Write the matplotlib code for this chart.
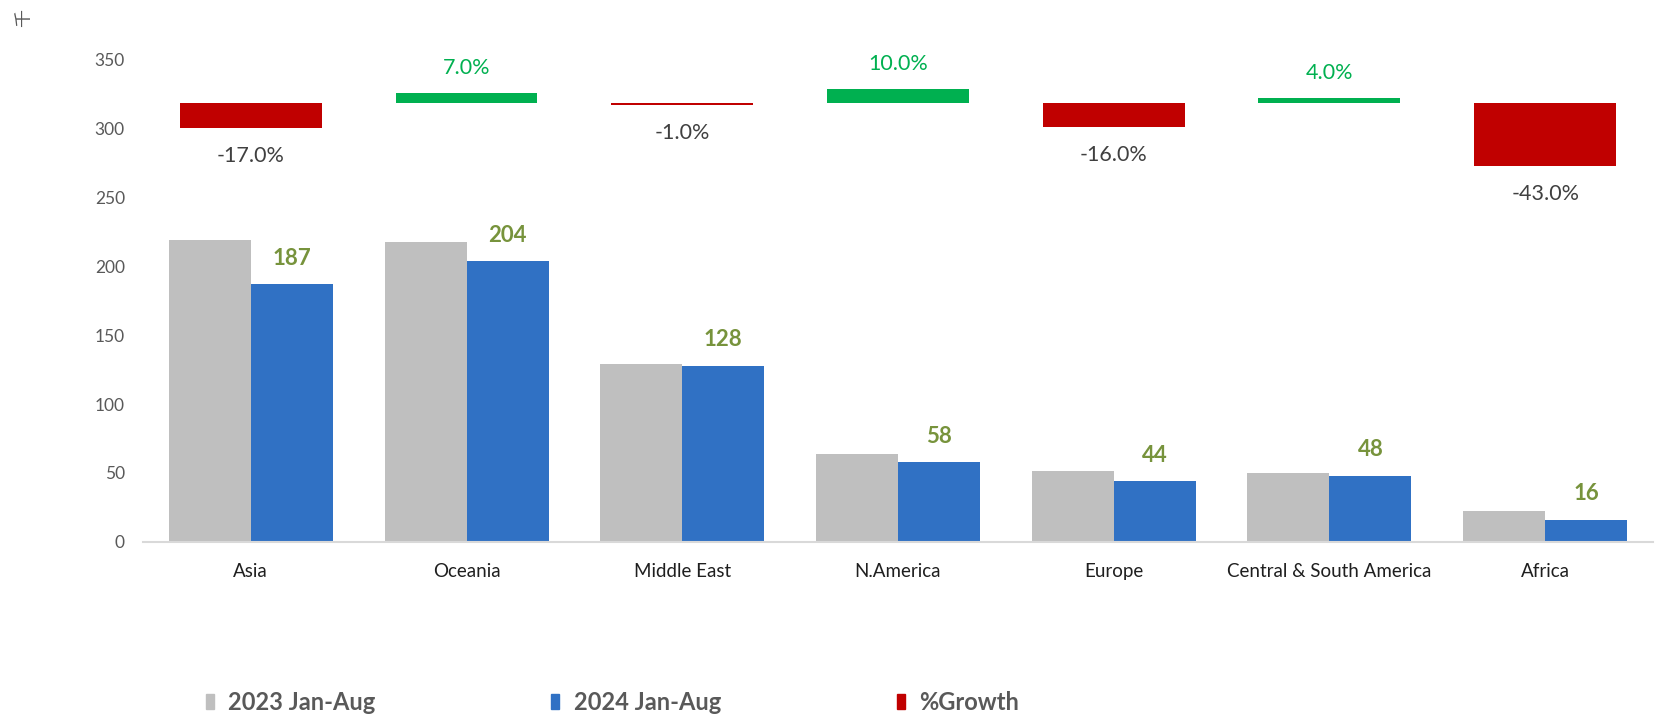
import numpy as np
import matplotlib
matplotlib.use("Agg")
import matplotlib.pyplot as plt
from matplotlib.patches import Patch

plt.rcParams['font.family'] = ['Lato', 'Noto Sans CJK SC', 'DejaVu Sans']

# data
regions = ['Asia', 'Oceania', 'Middle East', 'N.America', 'Europe',
           'Central & South America', 'Africa']
jan_aug_2023 = [219, 218, 129, 63.5, 51, 49.7, 22.5]
jan_aug_2024 = [187, 204, 128, 58, 44, 48, 16]
growth_pct = [-17.0, 7.0, -1.0, 10.0, -16.0, 4.0, -43.0]
y_ticks = [0, 50, 100, 150, 200, 250, 300, 350]
legend_labels = ['2023 Jan-Aug', '2024 Jan-Aug', '%Growth']

# colours
c_gray = '#BFBFBF'
c_blue = '#3071C4'
c_red = '#C00000'
c_green = '#00B050'
c_label = '#77933C'

fig = plt.figure(figsize=(16.64, 7.21), dpi=100)
ax = fig.add_axes([0.0859, 0.2487, 0.9075, 0.6681])

x = np.arange(len(regions))
w = 0.38
ax.bar(x - w / 2, jan_aug_2023, width=w, color=c_gray)
bars24 = ax.bar(x + w / 2, jan_aug_2024, width=w, color=c_blue)

# value labels above the 2024 bars
for rect, v in zip(bars24, jan_aug_2024):
    ax.annotate(f'{v:g}', (rect.get_x() + rect.get_width() / 2, v),
                xytext=(0, 18.5), textcoords='offset points',
                ha='center', va='center', fontsize=16, fontweight='bold',
                color=c_label)

ax.set_xlim(-0.5, len(regions) - 0.5)
ax.set_ylim(0, 350)
ax.set_yticks(y_ticks)
ax.set_xticks(x)
ax.set_xticklabels(regions, fontsize=13.5, color='#1F1F1F')
ax.tick_params(axis='x', length=0, pad=15)
ax.tick_params(axis='y', length=0, pad=13, labelsize=12.5, labelcolor='#595959')
for s in ['top', 'right', 'left']:
    ax.spines[s].set_visible(False)
ax.spines['bottom'].set_color('#D9D9D9')
ax.spines['bottom'].set_linewidth(1.5)

# growth bars on a hidden secondary axis
ax2 = ax.twinx()
ax2.set_ylim(-300.1, 29.8)
ax2.bar(x, growth_pct, width=0.658,
        color=[c_green if g >= 0 else c_red for g in growth_pct])
for xi, g in zip(x, growth_pct):
    if g >= 0:
        ax2.annotate(f'{g:.1f}%', (xi, g), xytext=(0, 18), textcoords='offset points',
                     ha='center', va='center', fontsize=15.5, color=c_green)
    else:
        ax2.annotate(f'{g:.1f}%', (xi, g), xytext=(0, -20), textcoords='offset points',
                     ha='center', va='center', fontsize=15.5, color='#404040')
ax2.set_yticks([])
for s in ax2.spines.values():
    s.set_visible(False)

# unit label
fig.text(0.0144, 0.975, '千', rotation=90, ha='center', va='center',
         fontsize=13, color='#595959', family=['Noto Sans CJK SC', 'DejaVu Sans'])

handles = [Patch(color=c_gray), Patch(color=c_blue), Patch(color=c_red)]
fig.legend(handles, legend_labels, loc='center left', bbox_to_anchor=(0.1238, 0.026),
           ncol=3, frameon=False, borderpad=0, borderaxespad=0,
           handlelength=0.34, handleheight=0.64, handletextpad=0.6,
           columnspacing=7.45,
           prop={'family': 'Lato', 'weight': 'bold', 'size': 17},
           labelcolor='#595959')

fig.savefig('out.png', dpi=100)
